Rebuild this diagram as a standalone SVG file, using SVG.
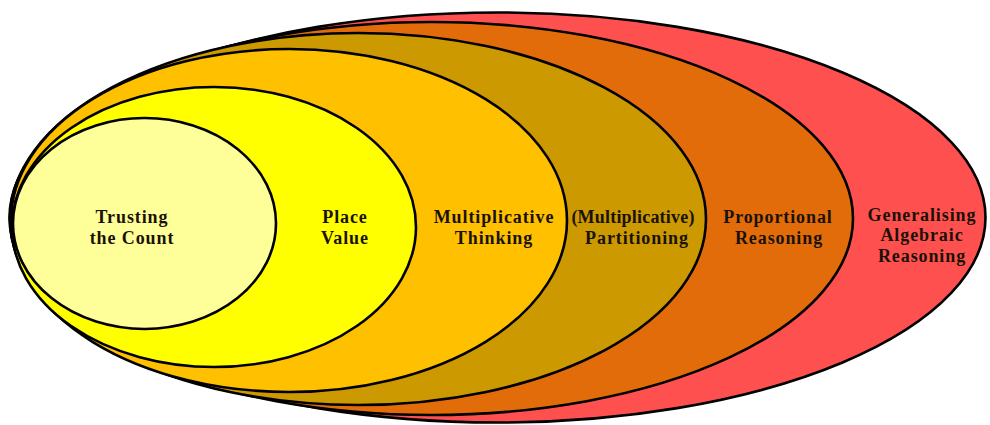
<svg xmlns="http://www.w3.org/2000/svg" width="990" height="425" viewBox="0 0 990 425">
<style>
.ring{stroke:#000;stroke-width:2.6}
.lbl{font-family:"Liberation Serif","Times New Roman",serif;font-weight:bold;font-size:18px;fill:#1a1206;text-anchor:middle;letter-spacing:0.9px}
.tight{letter-spacing:0.2px}
</style>
<rect width="990" height="425" fill="#fff"/>
<g id="generalising">
<ellipse class="ring" cx="497.5" cy="217.5" rx="488" ry="205" fill="#FF5050"/>
</g>
<g id="proportional">
<ellipse class="ring" cx="431.5" cy="218.5" rx="421.5" ry="196.5" fill="#E36C0A"/>
</g>
<g id="partitioning">
<ellipse class="ring" cx="358" cy="219" rx="348" ry="186" fill="#CC9900"/>
</g>
<g id="multiplicative">
<ellipse class="ring" cx="289" cy="220.5" rx="278" ry="171.5" fill="#FFC000"/>
</g>
<g id="placevalue">
<ellipse class="ring" cx="214" cy="227" rx="202" ry="140" fill="#FFFF00"/>
</g>
<g id="trusting">
<ellipse class="ring" cx="144.5" cy="223.5" rx="131.5" ry="105.5" fill="#FFFF99"/>
</g>
<g id="labels">
<text class="lbl" x="132" y="223">Trusting</text>
<text class="lbl" x="132" y="244">the Count</text>
<text class="lbl" x="345" y="223">Place</text>
<text class="lbl" x="345" y="244">Value</text>
<text class="lbl" x="494" y="223">Multiplicative</text>
<text class="lbl" x="494" y="244">Thinking</text>
<text class="lbl tight" x="633" y="223">(Multiplicative)</text>
<text class="lbl" x="637" y="244">Partitioning</text>
<text class="lbl" x="778" y="223">Proportional</text>
<text class="lbl" x="779" y="244">Reasoning</text>
<text class="lbl" x="922" y="221">Generalising</text>
<text class="lbl" x="922" y="241">Algebraic</text>
<text class="lbl" x="922" y="262">Reasoning</text>
</g>
</svg>
